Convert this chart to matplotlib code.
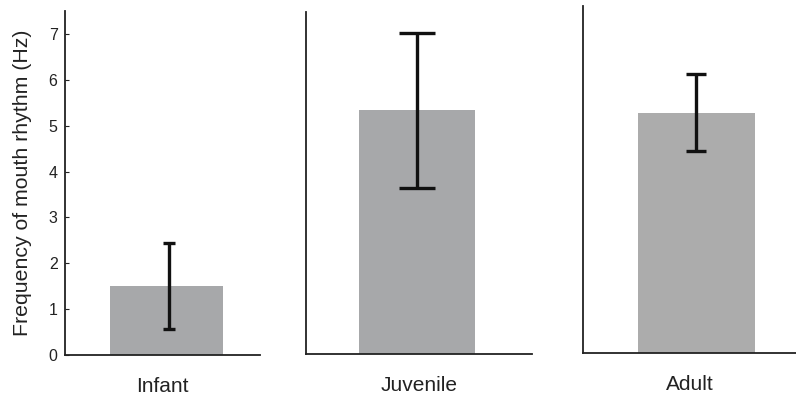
import matplotlib.pyplot as plt

plt.rcParams['font.family'] = ['Liberation Sans', 'DejaVu Sans']

# data
groups = ['Infant', 'Juvenile', 'Adult']
means = [1.51, 5.30, 5.19]
errors = [0.94, 1.68, 0.83]
bar_colors = ['#a7a8aa', '#a7a8aa', '#acacac']
yticks = [0, 1, 2, 3, 4, 5, 6, 7]

W, H = 796, 401
fig = plt.figure(figsize=(W / 100, H / 100), dpi=100)

# axes boxes in pixels: left, top, right, bottom
boxes = [(64.5, 11, 260, 355), (305.7, 12, 532, 354), (583.3, 6, 796, 352.7)]
# bar centre / width as a fraction of axes width
bar_pos = [(0.52, 0.578), (0.492, 0.513), (0.531, 0.552)]
caps = [4.5, 13, 7]

for i in range(3):
    l, t, r, b = boxes[i]
    ax = fig.add_axes([l / W, 1 - b / H, (r - l) / W, (b - t) / H])
    c, w = bar_pos[i]
    ax.bar(c, means[i], width=w, color=bar_colors[i])
    ax.errorbar(c + (0.014 if i == 0 else 0), means[i], yerr=errors[i], fmt='none',
                ecolor='#111111', elinewidth=2.4, capsize=caps[i], capthick=2.4)
    ax.set_xlim(0, 1)
    ax.set_ylim(0, 7.5 if i != 1 else 7.44)
    for s in ['top', 'right']:
        ax.spines[s].set_visible(False)
    for s in ['left', 'bottom']:
        ax.spines[s].set_linewidth(1.3)
        ax.spines[s].set_color('#222222')
    ax.set_xticks([])
    ax.set_xlabel(groups[i], fontsize=15, labelpad=16, color='#222222')
    if i == 0:
        ax.set_yticks(yticks)
        ax.tick_params(axis='y', direction='in', length=3, labelsize=11.5,
                       pad=5, colors='#222222')
        ax.set_ylabel('Frequency of mouth rhythm (Hz)', fontsize=15.3,
                      color='#222222', labelpad=12)
    else:
        ax.set_yticks([])

fig.savefig('out.png', dpi=100)
